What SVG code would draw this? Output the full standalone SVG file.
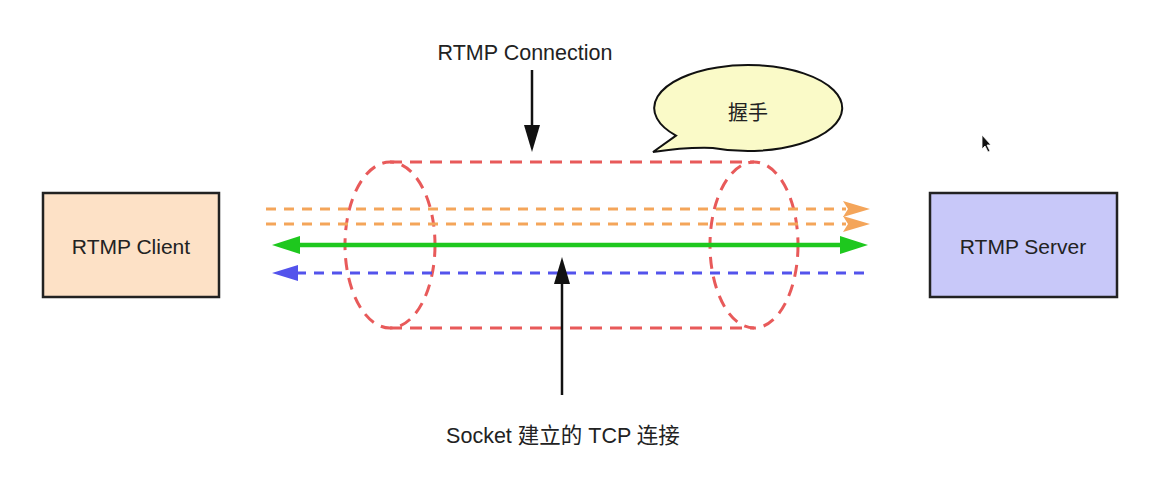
<svg xmlns="http://www.w3.org/2000/svg" width="1159" height="501" viewBox="0 0 1159 501">
<style>
.lbl{font-family:"Liberation Sans","Noto Sans CJK SC",sans-serif;font-size:21px;fill:#222;text-anchor:middle}
.box{stroke:#222;stroke-width:2.5}
.red{fill:none;stroke:#e85a5a;stroke-width:3;stroke-dasharray:12 8}
.org{fill:none;stroke:#f4a55a;stroke-width:3;stroke-dasharray:10 8}
.blu{fill:none;stroke:#5353ec;stroke-width:3;stroke-dasharray:10 8}
.grn{fill:none;stroke:#1ec81e;stroke-width:4.5}
.blk{fill:none;stroke:#111;stroke-width:2.5}
</style>
<rect width="1159" height="501" fill="#ffffff"/>
<g id="client">
<rect class="box" x="43" y="193" width="176" height="104" fill="#fde1c6"/>
<text class="lbl" x="131" y="254">RTMP Client</text>
</g>
<g id="server">
<rect class="box" x="930" y="193" width="187" height="104" fill="#c8c8f9"/>
<text class="lbl" x="1023" y="254">RTMP Server</text>
</g>
<g id="cylinder">
<line class="red" x1="390" y1="162" x2="754" y2="162"/>
<line class="red" x1="390" y1="328" x2="754" y2="328"/>
<ellipse class="red" cx="390" cy="245" rx="45" ry="83"/>
<ellipse class="red" cx="754" cy="245" rx="44" ry="83"/>
</g>
<g id="handshake">
<path d="M676,135.6 L653,152 Q685,147 712.8,147.9 A94,43 0 1 0 676,135.6 Z" fill="#fafac8" stroke="#111" stroke-width="2"/>
<text class="lbl" x="748" y="120" style="font-size:20px">握手</text>
</g>
<g id="connectors">
<line class="org" x1="266" y1="209" x2="846" y2="209"/>
<polygon points="870,209 843,201 848,209 843,217" fill="#f4a55a"/>
<line class="org" x1="266" y1="224" x2="846" y2="224"/>
<polygon points="870,224 843,216 848,224 843,232" fill="#f4a55a"/>
<line class="grn" x1="296" y1="245" x2="844" y2="245"/>
<polygon points="272,245 300,236 300,254" fill="#1ec81e"/>
<polygon points="868,245 840,236 840,254" fill="#1ec81e"/>
<line class="blu" x1="296" y1="273" x2="864" y2="273"/>
<polygon points="272,273 298,265 298,281" fill="#5353ec"/>
<line class="blk" x1="532" y1="70" x2="532" y2="128"/>
<polygon points="532,152 524,125 540,125" fill="#111"/>
<line class="blk" x1="562" y1="395" x2="562" y2="280"/>
<polygon points="562,257 554,284 570,284" fill="#111"/>
</g>
<g id="labels">
<text class="lbl" x="525" y="60" style="font-size:21.5px">RTMP Connection</text>
<text class="lbl" x="563" y="443" style="font-size:21.5px">Socket 建立的 TCP 连接</text>
</g>
<path d="M982,135 L982,149 L985,146 L988,152 L990,151 L987,145 L991,145 Z" fill="#111" stroke="#fff" stroke-width="0.8"/>
</svg>
